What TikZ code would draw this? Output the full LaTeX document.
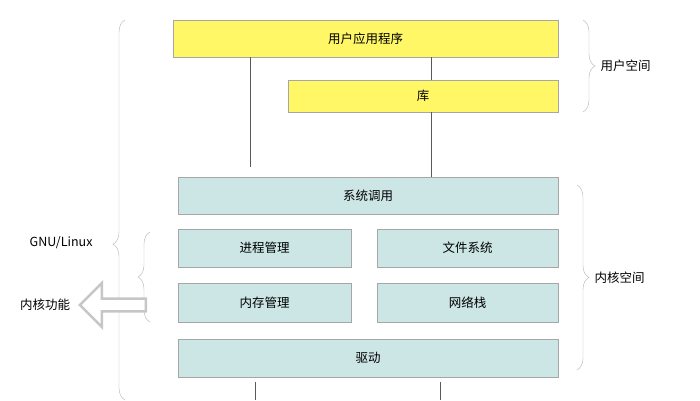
\documentclass[tikz,border=0pt]{standalone}
\usepackage{fontspec}
\setmainfont{Noto Sans CJK SC}
\usetikzlibrary{decorations.pathreplacing,shapes.arrows}
\begin{document}
\begin{tikzpicture}[x=1pt,y=-1pt,
    user/.style={draw=gray!70, fill=yellow!60!white, minimum height=#1, inner sep=0pt, font=\fontsize{12.5}{14}\selectfont},
    kern/.style={draw=gray!70, fill=teal!20!white, minimum height=#1, inner sep=0pt, font=\fontsize{12.5}{14}\selectfont},
    link/.style={gray!70!black, thin},
    curly/.style={decorate, decoration={brace, amplitude=12pt, aspect=#1}, gray!60, thin},
    curly/.default=0.5,
    lbl/.style={font=\fontsize{12.5}{14}\selectfont, text=black}
]
    \useasboundingbox (0,0) rectangle (700,400);
    % User space
    \node[user=37pt, minimum width=385pt] (app) at (365.5,38.5) {用户应用程序};
    \node[user=32pt, minimum width=270pt] (lib) at (423,96) {库};

    % Kernel space
    \node[kern=37pt, minimum width=380pt] (syscall) at (368,195.5) {系统调用};
    \node[kern=38pt, minimum width=173pt] (proc) at (264.5,248) {进程管理};
    \node[kern=38pt, minimum width=181pt] (fs) at (467.5,248) {文件系统};
    \node[kern=39pt, minimum width=173pt] (mem) at (264.5,302.5) {内存管理};
    \node[kern=39pt, minimum width=181pt] (net) at (467.5,302.5) {网络栈};
    \node[kern=38pt, minimum width=380pt] (drv) at (368,358) {驱动};

    % Connectors
    \coordinate (s1) at (250,167);
    \coordinate (d1) at (255,400);
    \coordinate (d2) at (440,400);
    \draw[link] (app.south -| s1) -- (s1);
    \draw[link] (app.south -| 431,0) -- (lib.north -| 431,0);
    \draw[link] (lib.south -| 431,0) -- (syscall.north -| 431,0);
    \draw[link] (drv.south -| d1) ++(0,5) -- (d1);
    \draw[link] (drv.south -| d2) ++(0,5) -- (d2);

    % Braces
    \draw[curly=0.41] (125,400) -- (125,20);
    \node[lbl, anchor=east] (gnu) at (96,243) {GNU/Linux};
    \draw[curly] (150,322) -- (150,232);
    \draw[curly] (583,20) -- (583,112) node[midway, right=14pt, lbl] (uspace) {用户空间};
    \draw[curly] (577,185) -- (577,370) node[midway, right=14pt, lbl] (kspace) {内核空间};

    % Kernel functions
    \node[single arrow, draw=gray!45, line width=2.5pt, fill=white, shape border rotate=180,
          minimum height=66pt, minimum width=44pt, single arrow head extend=8pt, inner sep=2pt] (karrow) at (116,305) {};
    \node[lbl] (kfunc) at (45,305) {内核功能};
\end{tikzpicture}
\end{document}
